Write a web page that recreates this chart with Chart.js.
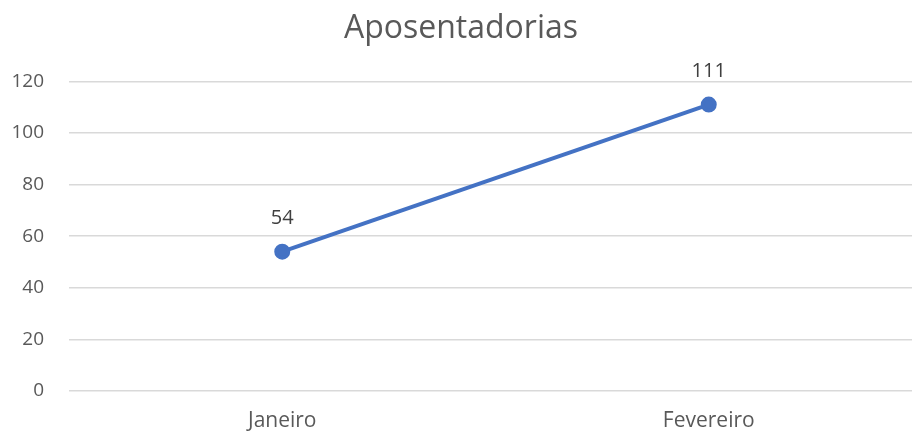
<!DOCTYPE html>
<html>
<head>
<meta charset="utf-8">
<script src="https://cdn.jsdelivr.net/npm/chart.js@4/dist/chart.umd.min.js"></script>
<style>
  html, body { margin: 0; padding: 0; background: #fff; overflow: hidden; }
  #wrap { width: 944px; height: 434px; }
</style>
</head>
<body>
<div id="wrap"><canvas id="c" width="944" height="434"></canvas></div>
<script>
const categories = ["Janeiro", "Fevereiro"];
const values = [54, 111];
const chartTitle = "Aposentadorias";
const yMin = 0, yMax = 120, yStep = 20;

const FONT = '"Open Sans", "Liberation Sans", sans-serif';

const dataLabels = {
  id: 'dataLabels',
  afterDatasetsDraw(chart) {
    const ctx = chart.ctx;
    const meta = chart.getDatasetMeta(0);
    ctx.save();
    ctx.font = '20px ' + FONT;
    ctx.fillStyle = '#404040';
    ctx.textAlign = 'center';
    ctx.textBaseline = 'middle';
    meta.data.forEach((pt, i) => {
      ctx.fillText(String(values[i]), pt.x, pt.y - 33);
    });
    ctx.restore();
  }
};

new Chart(document.getElementById('c'), {
  type: 'line',
  data: {
    labels: categories,
    datasets: [{
      data: values,
      borderColor: '#4472C4',
      backgroundColor: '#4472C4',
      borderWidth: 4,
      pointRadius: 6,
      pointHoverRadius: 6,
      pointBackgroundColor: '#4472C4',
      pointBorderColor: '#4472C4',
      tension: 0
    }]
  },
  options: {
    responsive: false,
    animation: false,
    devicePixelRatio: 1,
    layout: { padding: { left: 0, right: 22, top: 0, bottom: 0 } },
    plugins: {
      legend: { display: false },
      tooltip: { enabled: false },
      title: {
        display: true,
        text: chartTitle,
        color: '#595959',
        font: { family: FONT, size: 32, weight: 'normal' },
        padding: { top: 10, bottom: 33 }
      }
    },
    scales: {
      x: {
        offset: true,
        grid: { display: false, drawTicks: false },
        border: { display: false },
        ticks: {
          color: '#595959',
          font: { family: FONT, size: 21 },
          padding: 17,
          maxRotation: 0
        },
        afterFit(scale) { scale.height = 43; }
      },
      y: {
        min: yMin, max: yMax,
        ticks: {
          stepSize: yStep,
          color: '#595959',
          font: { family: FONT, size: 19 },
          padding: 25
        },
        grid: { color: '#d9d9d9', lineWidth: 1.5, drawTicks: false },
        border: { display: false },
        afterFit(scale) { scale.width = 69; }
      }
    }
  },
  plugins: [dataLabels]
});
</script>
</body>
</html>
